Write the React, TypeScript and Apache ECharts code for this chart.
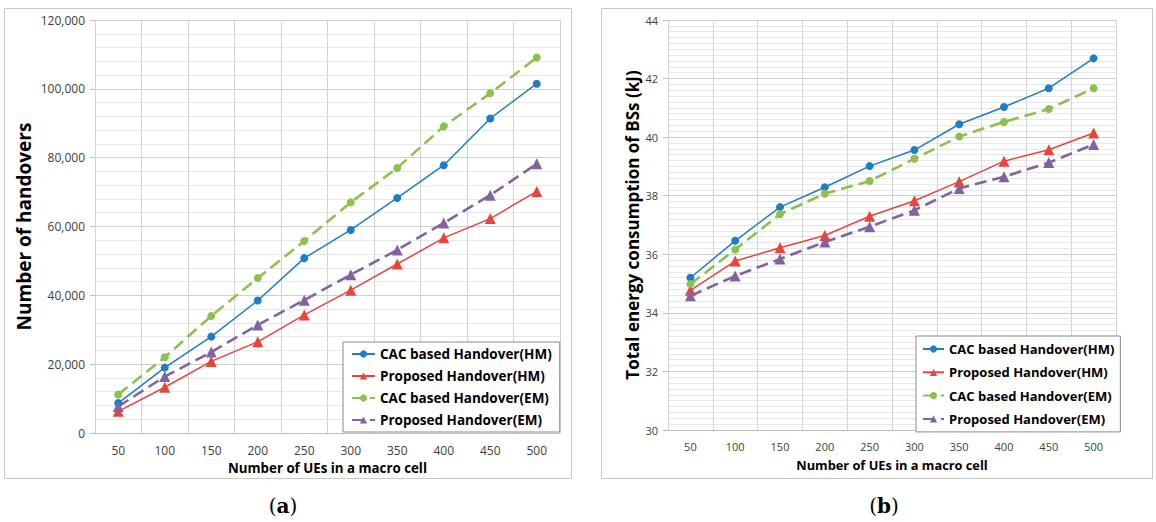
import React, { useEffect, useRef } from "react";
import * as echarts from "echarts";

const categories = ["50", "100", "150", "200", "250", "300", "350", "400", "450", "500"];
const seriesNames = [
  "CAC based Handover(HM)",
  "Proposed Handover(HM)",
  "CAC based Handover(EM)",
  "Proposed Handover(EM)",
];

// (a) Number of handovers
const handoverCacHM = [8700, 19000, 28000, 38500, 50800, 59000, 68300, 77800, 91400, 101500];
const handoverPropHM = [6300, 13300, 20800, 26500, 34300, 41500, 49100, 56700, 62300, 70200];
const handoverCacEM = [11200, 22000, 34000, 45000, 55800, 67000, 77000, 89100, 98700, 109100];
const handoverPropEM = [7700, 16400, 23500, 31400, 38600, 46000, 53200, 61000, 69100, 78200];

// (b) Total energy consumption of BSs (kJ)
const energyCacHM = [35.2, 36.46, 37.61, 38.29, 39.01, 39.56, 40.44, 41.03, 41.67, 42.69];
const energyPropHM = [34.77, 35.77, 36.22, 36.64, 37.3, 37.83, 38.48, 39.18, 39.57, 40.14];
const energyCacEM = [34.98, 36.16, 37.37, 38.07, 38.5, 39.26, 40.02, 40.52, 40.96, 41.67];
const energyPropEM = [34.58, 35.26, 35.84, 36.42, 36.94, 37.5, 38.25, 38.65, 39.13, 39.75];

const leftYTicks = ["0", "20,000", "40,000", "60,000", "80,000", "100,000", "120,000"];

const COLORS = ["#1f7dc6", "#e8453c", "#8cc14c", "#8064a2"];
const FONT = "'Open Sans', 'Noto Sans', sans-serif";

function makeSeries(data: number[][], idx: number) {
  return data.map((d, i) => {
    const dashed = i >= 2;
    const tri = i % 2 === 1;
    return {
      name: seriesNames[i],
      type: "line",
      xAxisIndex: idx,
      yAxisIndex: idx,
      data: d,
      symbol: tri ? "triangle" : "circle",
      symbolSize: tri ? 11 : 8,
      showSymbol: true,
      color: COLORS[i],
      itemStyle: { color: COLORS[i] },
      lineStyle: dashed
        ? { color: COLORS[i], width: 2.6, type: [12, 6] }
        : { color: COLORS[i], width: 1.5 },
      z: 3,
    };
  });
}

export default function App() {
  const ref = useRef<HTMLDivElement>(null);
  useEffect(() => {
    if (!ref.current) return;
    const chart = echarts.init(ref.current, undefined, { renderer: "svg" });
    const axisLabelColor = "#404040";
    const xAxisCommon = (fontSize: number, nameSize: number) => ({
      type: "category",
      data: categories,
      boundaryGap: true,
      axisLine: { show: true, lineStyle: { color: "#bfbfbf", width: 1 } },
      axisTick: { show: false },
      axisLabel: { color: axisLabelColor, fontSize, fontFamily: FONT, margin: 11 },
      splitLine: { show: true, interval: 0, lineStyle: { color: "#d4d4d4", width: 1 } },
      name: "Number of UEs in a macro cell",
      nameLocation: "middle",
      nameGap: 28,
      nameTextStyle: { color: "#000", fontSize: nameSize, fontWeight: "bold", fontFamily: FONT },
    });
    const option = {
      animation: false,
      backgroundColor: "#ffffff",
      grid: [
        { left: 95, right: 1156 - 560, top: 20, bottom: 522 - 433, containLabel: false },
        { left: 668, right: 1156 - 1116, top: 20, bottom: 522 - 430, containLabel: false },
      ],
      xAxis: [
        { ...xAxisCommon(12, 13.3), gridIndex: 0 },
        { ...xAxisCommon(11, 12.8), gridIndex: 1 },
      ],
      yAxis: [
        {
          type: "value",
          gridIndex: 0,
          min: 0,
          max: 120000,
          interval: 20000,
          axisLine: { show: true, lineStyle: { color: "#d4d4d4" } },
          axisTick: { show: true, length: 5, inside: false, lineStyle: { color: "#bfbfbf" } },
          axisLabel: {
            color: axisLabelColor,
            fontSize: 12,
            fontFamily: FONT,
            margin: 10,
            formatter: (v: number) => leftYTicks[Math.round(v / 20000)] ?? "",
          },
          splitLine: { show: true, lineStyle: { color: "#cfcfcf", width: 1 } },
          minorTick: { show: false, splitNumber: 5 },
          minorSplitLine: { show: true, lineStyle: { color: "#e8e8e8", width: 1 } },
          name: "Number of handovers",
          nameLocation: "middle",
          nameGap: 62,
          nameTextStyle: { color: "#000", fontSize: 19, fontWeight: "bold", fontFamily: FONT },
        },
        {
          type: "value",
          gridIndex: 1,
          min: 30,
          max: 44,
          interval: 2,
          axisLine: { show: true, lineStyle: { color: "#d4d4d4" } },
          axisTick: { show: true, length: 5, inside: false, lineStyle: { color: "#bfbfbf" } },
          axisLabel: { color: axisLabelColor, fontSize: 11, fontFamily: FONT, margin: 10 },
          splitLine: { show: true, lineStyle: { color: "#cfcfcf", width: 1 } },
          minorTick: { show: false, splitNumber: 10 },
          minorSplitLine: { show: true, lineStyle: { color: "#e8e8e8", width: 1 } },
          name: "Total energy consumption of BSs (kJ)",
          nameLocation: "middle",
          nameGap: 27,
          nameTextStyle: { color: "#000", fontSize: 17, fontWeight: "bold", fontFamily: FONT },
        },
      ],
      legend: [
        {
          data: seriesNames,
          orient: "vertical",
          left: 343,
          top: 342,
          itemWidth: 23,
          itemHeight: 9,
          itemGap: 8,
          padding: [5, 8, 5, 8],
          backgroundColor: "#ffffff",
          borderColor: "#8a8a8a",
          borderWidth: 1,
          borderRadius: 0,
          selectedMode: false,
          textStyle: { color: "#000", fontSize: 13.5, fontWeight: "bold", fontFamily: FONT, lineHeight: 14 },
          z: 10,
        },
        {
          data: seriesNames,
          orient: "vertical",
          left: 916,
          top: 336,
          itemWidth: 21,
          itemHeight: 9,
          itemGap: 9.3,
          padding: [6, 6, 6, 6],
          backgroundColor: "#ffffff",
          borderColor: "#8a8a8a",
          borderWidth: 1,
          borderRadius: 0,
          selectedMode: false,
          textStyle: { color: "#000", fontSize: 13, fontWeight: "bold", fontFamily: FONT, lineHeight: 14 },
          z: 10,
        },
      ],
      graphic: [
        {
          type: "rect",
          shape: { x: 4.5, y: 8.5, width: 567, height: 470 },
          style: { fill: "none", stroke: "#c8c8c8", lineWidth: 1 },
          z: -10,
          silent: true,
        },
        {
          type: "rect",
          shape: { x: 601.5, y: 8.5, width: 551, height: 470 },
          style: { fill: "none", stroke: "#c8c8c8", lineWidth: 1 },
          z: -10,
          silent: true,
        },
        {
          type: "text",
          x: 283,
          y: 506,
          style: {
            text: "({a|a})",
            fill: "#000",
            fontSize: 20,
            fontFamily: "'DejaVu Serif', serif",
            align: "center",
            verticalAlign: "middle",
            rich: { a: { fontWeight: "bold", fontSize: 20, fontFamily: "'DejaVu Serif', serif" } },
          },
        },
        {
          type: "text",
          x: 884,
          y: 506,
          style: {
            text: "({b|b})",
            fill: "#000",
            fontSize: 20,
            fontFamily: "'DejaVu Serif', serif",
            align: "center",
            verticalAlign: "middle",
            rich: { b: { fontWeight: "bold", fontSize: 20, fontFamily: "'DejaVu Serif', serif" } },
          },
        },
      ],
      series: [
        ...makeSeries([handoverCacHM, handoverPropHM, handoverCacEM, handoverPropEM], 0),
        ...makeSeries([energyCacHM, energyPropHM, energyCacEM, energyPropEM], 1),
      ],
    };
    chart.setOption(option as any);
    return () => chart.dispose();
  }, []);
  return (
    <div
      ref={ref}
      style={{ position: "absolute", left: 0, top: 0, width: 1156, height: 522 }}
    />
  );
}
